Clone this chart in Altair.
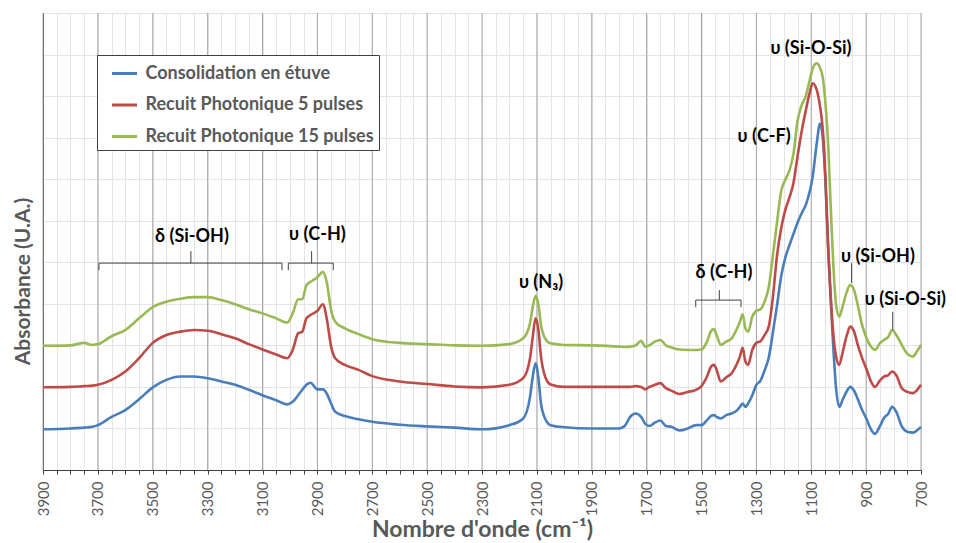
import altair as alt
import pandas as pd

# ---------------- data ----------------
wavenumber = [3900, 3800, 3750, 3720, 3700, 3650, 3600, 3550, 3500, 3450, 3400, 3350, 3300, 3250,
              3200, 3150, 3100, 3050, 3010, 2990, 2970, 2955, 2940, 2925, 2900, 2880, 2865, 2850,
              2835, 2800, 2750, 2700, 2600, 2500, 2400, 2300, 2200, 2150, 2125, 2115, 2105, 2095,
              2085, 2070, 2050, 2000, 1900, 1800, 1780, 1760, 1740, 1720, 1705, 1690, 1670, 1650,
              1630, 1610, 1580, 1550, 1520, 1500, 1480, 1465, 1455, 1445, 1430, 1410, 1390, 1370,
              1360, 1350, 1340, 1330, 1315, 1300, 1285, 1270, 1255, 1240, 1225, 1210, 1195, 1180,
              1165, 1150, 1135, 1120, 1105, 1095, 1080, 1068, 1058, 1048, 1038, 1030, 1020, 1010,
              998, 985, 970, 958, 945, 930, 915, 900, 880, 868, 850, 835, 820, 805, 790, 770, 750,
              730, 715, 700]

consolidation = [0.98, 1.00, 1.02, 1.04, 1.08, 1.28, 1.44, 1.70, 1.99, 2.17, 2.25, 2.25, 2.21, 2.13,
                 2.05, 1.93, 1.80, 1.68, 1.58, 1.64, 1.80, 1.93, 2.05, 2.10, 1.94, 1.94, 1.83, 1.60,
                 1.40, 1.30, 1.22, 1.16, 1.09, 1.05, 1.02, 0.98, 1.08, 1.24, 1.76, 2.25, 2.57, 2.25,
                 1.60, 1.24, 1.08, 1.03, 1.00, 1.00, 1.06, 1.28, 1.36, 1.28, 1.11, 1.06, 1.14, 1.19,
                 1.06, 1.04, 0.95, 1.00, 1.08, 1.08, 1.20, 1.30, 1.32, 1.28, 1.24, 1.32, 1.36, 1.44,
                 1.52, 1.60, 1.52, 1.60, 1.80, 2.05, 2.15, 2.40, 2.70, 3.30, 3.95, 4.65, 5.10, 5.40,
                 5.68, 5.95, 6.18, 6.38, 6.72, 7.05, 7.86, 8.34, 8.00, 6.90, 5.29, 4.20, 3.00, 2.00,
                 1.52, 1.70, 1.90, 2.00, 1.92, 1.70, 1.45, 1.25, 0.95, 0.87, 1.05, 1.25, 1.35, 1.52,
                 1.40, 1.05, 0.92, 0.90, 0.95, 1.04]

recuit_5 = [1.99, 2.00, 2.02, 2.03, 2.05, 2.17, 2.37, 2.69, 3.06, 3.25, 3.33, 3.37, 3.35, 3.27,
            3.17, 3.03, 2.90, 2.78, 2.69, 2.89, 3.29, 3.33, 3.65, 3.73, 3.83, 3.99, 3.61, 2.97,
            2.69, 2.53, 2.41, 2.26, 2.13, 2.07, 2.01, 1.99, 2.05, 2.21, 2.69, 3.21, 3.65, 3.41,
            2.73, 2.25, 2.06, 2.00, 2.00, 2.00, 2.00, 2.00, 2.02, 2.00, 1.94, 2.00, 2.05, 2.09,
            1.97, 1.91, 1.83, 1.88, 1.93, 2.02, 2.25, 2.49, 2.53, 2.41, 2.13, 2.23, 2.33, 2.57,
            2.73, 2.94, 2.61, 2.53, 2.89, 3.06, 3.10, 3.25, 3.45, 4.15, 5.15, 5.80, 6.25, 6.55,
            6.90, 7.55, 8.15, 8.65, 9.10, 9.31, 9.15, 8.75, 8.20, 7.00, 5.29, 4.30, 3.30, 2.75,
            2.53, 2.85, 3.25, 3.45, 3.35, 3.00, 2.70, 2.45, 2.10, 2.00, 2.15, 2.25, 2.28, 2.37,
            2.28, 1.97, 1.88, 1.85, 1.92, 2.05]

recuit_15 = [2.99, 3.00, 3.06, 3.01, 3.03, 3.22, 3.37, 3.65, 3.92, 4.05, 4.12, 4.16, 4.16, 4.09,
             3.99, 3.87, 3.77, 3.65, 3.55, 3.77, 4.11, 4.11, 4.45, 4.53, 4.64, 4.77, 4.49, 3.85,
             3.57, 3.41, 3.27, 3.15, 3.06, 3.03, 3.00, 2.99, 3.03, 3.17, 3.53, 3.93, 4.19, 4.01,
             3.49, 3.17, 3.05, 3.01, 3.00, 2.97, 2.96, 2.97, 3.00, 3.11, 2.97, 3.00, 3.09, 3.13,
             3.00, 2.95, 2.90, 2.89, 2.89, 2.90, 3.09, 3.35, 3.39, 3.25, 3.01, 3.09, 3.17, 3.41,
             3.57, 3.75, 3.41, 3.33, 3.69, 3.83, 3.87, 4.05, 4.40, 5.15, 5.95, 6.70, 6.98, 7.20,
             7.60, 8.40, 8.78, 9.00, 9.40, 9.66, 9.79, 9.68, 9.45, 8.80, 7.80, 6.50, 5.00, 4.00,
             3.69, 3.95, 4.30, 4.45, 4.35, 3.95, 3.50, 3.20, 2.95, 2.89, 3.05, 3.13, 3.20, 3.37,
             3.25, 3.01, 2.80, 2.73, 2.85, 3.01]

series_names = ["Consolidation en étuve", "Recuit Photonique 5 pulses", "Recuit Photonique 15 pulses"]
series_colors = ["#4A7EBB", "#BE4B48", "#98B954"]

x_ticks = list(range(3900, 699, -50))
major_ticks = list(range(3900, 699, -200))
y_grid = list(range(0, 12))

label_text = ["δ (Si-OH)", "υ (C-H)", "υ (N₃)", "δ (C-H)", "υ (C-F)", "υ (Si-O-Si)", "υ (Si-OH)", "υ (Si-O-Si)"]
label_wn = [3357, 2900, 2085, 1418, 1272, 1101, 857, 757]
label_abs = [5.61, 5.66, 4.49, 4.73, 8.02, 10.13, 5.13, 4.09]

# bracket / leader segments (x1, x2, y1, y2)
seg_x1 = [3696, 3696, 3029, 3361, 3006, 3006, 2842, 2921, 1521, 1521, 1356, 1435, 953, 803]
seg_x2 = [3029, 3696, 3029, 3361, 2842, 3006, 2842, 2921, 1356, 1521, 1356, 1435, 953, 803]
seg_y1 = [4.98, 4.98, 4.98, 5.27, 4.98, 4.98, 4.98, 5.27, 4.09, 4.09, 4.09, 4.33, 4.98, 3.81]
seg_y2 = [4.98, 4.81, 4.81, 4.98, 4.98, 4.81, 4.81, 4.98, 4.09, 3.92, 3.92, 4.09, 4.50, 3.37]

# ---------------- tables ----------------
rows = []
for name, vals in zip(series_names, [consolidation, recuit_5, recuit_15]):
    for w, v in zip(wavenumber, vals):
        rows.append({"wn": w, "absorbance": v, "series": name})
spectra = pd.DataFrame(rows)
labels_df = pd.DataFrame({"wn": label_wn, "absorbance": label_abs, "text": label_text})
segs_df = pd.DataFrame({"wn": seg_x1, "wn2": seg_x2, "absorbance": seg_y1, "absorbance2": seg_y2})
major_df = pd.DataFrame({"wn": major_ticks})

FONT = "Lato"
XTITLE = "Nombre d'onde (cm⁻¹)"
YTITLE = "Absorbance (U.A.)"
xscale = alt.Scale(domain=[700, 3900], reverse=True, nice=False, zero=False)
yscale = alt.Scale(domain=[0, 11], nice=False, zero=False)

xaxis = alt.Axis(values=x_ticks, format="d",
                 labelExpr="(3900 - datum.value) % 200 == 0 ? datum.label : ''",
                 labelAngle=-90, labelFont=FONT, labelFontSize=15, labelColor="#595959",
                 labelPadding=7, labelOverlap=False, tickSize=4, tickColor="#404040",
                 domainColor="#404040", gridColor="#e4e4e4", grid=True,
                 titleFont=FONT, titleFontSize=23, titleFontWeight="bold",
                 titleColor="#595959", titlePadding=3)
yaxis = alt.Axis(values=y_grid, labels=False, ticks=False, grid=True, gridColor="#e4e4e4",
                 domainColor="#404040", titleFont=FONT, titleFontSize=21,
                 titleFontWeight="bold", titleColor="#595959", titleX=-20, titleY=268,
                 titleAlign="center", titleBaseline="middle")


def X(field):
    return alt.X(field, type="quantitative", scale=xscale, axis=xaxis, title=XTITLE)


def Y(field):
    return alt.Y(field, type="quantitative", scale=yscale, axis=yaxis, title=YTITLE)


lines = alt.Chart(spectra).mark_line(strokeWidth=2.6, interpolate="monotone").encode(
    x=X("wn"),
    y=Y("absorbance"),
    color=alt.Color("series:N", scale=alt.Scale(domain=series_names, range=series_colors),
                    legend=alt.Legend(title=None, orient="none", legendX=54, legendY=42,
                                      direction="vertical", symbolType="stroke", symbolSize=625,
                                      symbolStrokeWidth=3, labelFont=FONT, labelFontSize=18,
                                      labelFontWeight="bold", labelColor="#595959",
                                      strokeColor="#404040", fillColor="white", padding=4.5,
                                      rowPadding=8.5, symbolOffset=9, labelOffset=7, labelLimit=400)),
    order=alt.Order("wn:Q"),
)

major = alt.Chart(major_df).mark_rule(color="#a6a6a6", strokeWidth=1).encode(x=X("wn"))

segs = alt.Chart(segs_df).mark_rule(color="#404040", strokeWidth=1).encode(
    x=X("wn"), x2="wn2:Q", y=Y("absorbance"), y2="absorbance2:Q",
)

texts = alt.Chart(labels_df).mark_text(font=FONT, fontSize=18, fontWeight="bold", color="#000000",
                                       align="center", baseline="middle").encode(
    x=X("wn"), y=Y("absorbance"), text="text:N",
)

chart = alt.layer(major, lines, segs, texts).properties(
    width=878, height=457,
    autosize=alt.AutoSizeParams(type="none"),
    padding={"left": 35, "right": 27, "top": 5, "bottom": 75},
).configure_view(stroke="#a0a0a0", strokeWidth=1)

chart.save("out.html", embed_options={"renderer": "svg", "actions": False})
